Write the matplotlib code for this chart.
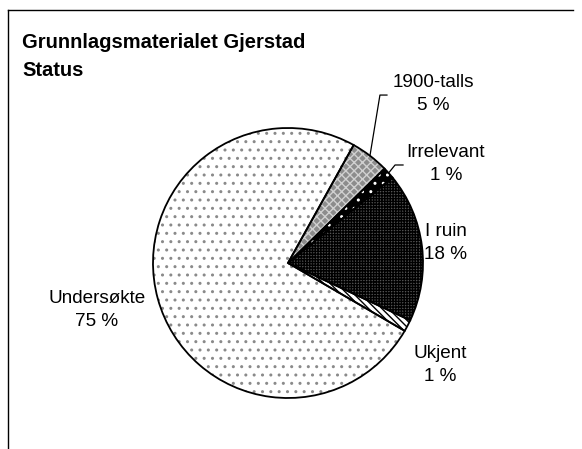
import matplotlib
matplotlib.use('Agg')
import matplotlib.pyplot as plt
from matplotlib.lines import Line2D
import numpy as np

plt.rcParams['font.family'] = ['Liberation Sans', 'DejaVu Sans']

# data (prosent)
categories = ['1900-talls', 'Irrelevant', 'I ruin', 'Ukjent', 'Undersøkte']
values = [4.6, 1.4, 17.9, 1.4, 74.7]
pct_labels = ['5 %', '1 %', '18 %', '1 %', '75 %']

# styles per slice
faces = ['#8c8c8c', '#000000', '#555555', '#ffffff', '#ffffff']
hatches = ['xxxx', '..', '++++++', '\\\\\\\\\\', '..']
hatch_cols = ['#d0d0d0', '#ffffff', '#000000', '#000000', '#8a8a8a']

# label positions (pie radius = 1)
label_pos = [(1.074, 1.252), (1.17, 0.733), (1.17, 0.148), (1.126, -0.755), (-1.415, -0.348)]
leaders = {0: [(0.733, 1.244), (0.681, 1.244)], 1: [(0.852, 0.726), (0.793, 0.726)]}

fig = plt.figure(figsize=(5.82, 4.49), dpi=100)
ax = fig.add_axes([0, 0, 1, 1])

# hatched fill
wedges, _ = ax.pie(values, startangle=60.9, counterclock=False,
                   wedgeprops=dict(linewidth=0))
for w, fc, h, hc in zip(wedges, faces, hatches, hatch_cols):
    w.set_facecolor(fc)
    w.set_hatch(h)
    w.set_edgecolor(hc)
    w.set_linewidth(0)

# black outlines
outl, _ = ax.pie(values, startangle=60.9, counterclock=False,
                 wedgeprops=dict(fill=False, edgecolor='black', linewidth=1.3))

for i, w in enumerate(wedges):
    x, y = label_pos[i]
    ax.text(x, y, categories[i] + '\n' + pct_labels[i], ha='center', va='center',
            fontsize=13.6, linespacing=1.4)
    if i in leaders:
        mid = np.deg2rad((w.theta1 + w.theta2) / 2)
        pts = leaders[i] + [(np.cos(mid), np.sin(mid))]
        ax.plot([p[0] for p in pts], [p[1] for p in pts], color='black', lw=0.9)

ax.set_xlim(-288 / 135, 294 / 135)
ax.set_ylim(-186 / 135, 263 / 135)
ax.set_aspect('auto')
ax.axis('off')

# title
fig.text(22 / 582, 1 - 43 / 449, 'Grunnlagsmaterialet Gjerstad', fontsize=14.5,
         fontweight='bold', ha='left', va='center')
fig.text(22 / 582, 1 - 71 / 449, 'Status', fontsize=14.5,
         fontweight='bold', ha='left', va='center')

# ramme (topp og venstre)
fig.add_artist(Line2D([8 / 582, 573 / 582], [1 - 10 / 449, 1 - 10 / 449], color='black', lw=1))
fig.add_artist(Line2D([8 / 582, 8 / 582], [1 - 10 / 449, 0], color='black', lw=1))

fig.savefig('out.png', dpi=100)
